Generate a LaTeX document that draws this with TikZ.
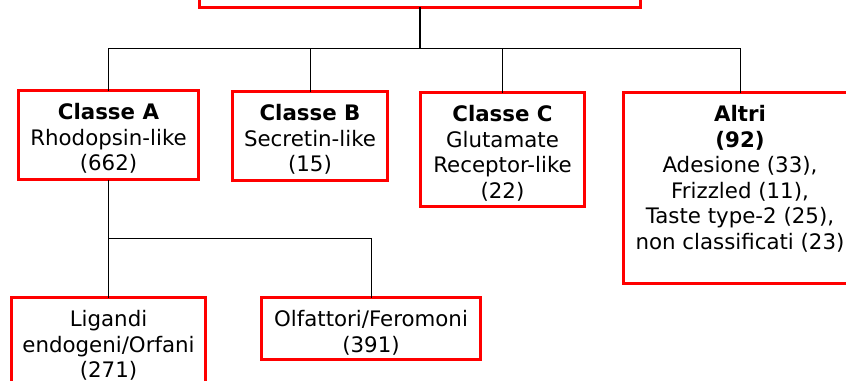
\documentclass[tikz,border=0pt]{standalone}
\usepackage{fontspec}
\setmainfont{DejaVu Sans}
\begin{document}
\begin{tikzpicture}[x=0.75pt,y=-0.75pt,
  box/.style={draw=red, line width=2.25pt, inner sep=0pt, outer sep=0pt, rectangle, anchor=north west},
  lbl/.style={anchor=north, align=center, inner sep=0pt, font=\fontsize{16}{19.2}\selectfont},
  link/.style={draw=black, line width=0.75pt},
  trunk/.style={draw=black, line width=1.5pt}]
\useasboundingbox (0,0) rectangle (846,380);

% frames
\node[box, minimum width=330.75pt, minimum height=50.25pt] (top) at (199.5,-60) {};
\node[box, minimum width=135pt,    minimum height=66.75pt]  (A)   at (18.5,90.5) {};
\node[box, minimum width=116.25pt, minimum height=66.75pt]  (B)   at (232.5,91.5) {};
\node[box, minimum width=123pt,    minimum height=85.5pt]   (C)   at (420.5,92.5) {};
\node[box, minimum width=174.75pt, minimum height=143.25pt] (D)   at (623.5,92.5) {};
\node[box, minimum width=145.5pt,  minimum height=112.5pt]  (L)   at (11.5,297.5) {};
\node[box, minimum width=164.25pt, minimum height=46.5pt]   (O)   at (261.5,297.5) {};

% labels
\node[lbl] (tA) at (108.5,103) {\textbf{Classe A}\\Rhodopsin-like\\(662)};
\node[lbl] (tB) at (310,104) {\textbf{Classe B}\\Secretin-like\\(15)};
\node[lbl] (tC) at (502.5,105) {\textbf{Classe C}\\Glutamate\\Receptor-like\\(22)};
\node[lbl] (tD) at (740,105) {\textbf{Altri}\\\textbf{(92)}\\Adesione (33),\\Frizzled (11),\\Taste type-2 (25),\\non classificati (23)};
\node[lbl] (tL) at (108.5,310) {Ligandi\\endogeni/Orfani\\(271)};
\node[lbl] (tO) at (371,310) {Olfattori/Feromoni\\(391)};

% tree connectors
\coordinate (bus) at (420,48);
\coordinate (sub) at (108.5,238);
\draw[trunk] (top.south) -- (bus);
\draw[link] (bus) -| (A.north);
\draw[link] (bus) -| (B.north);
\draw[link] (bus) -| (C.north);
\draw[link] (bus) -| (D.north);
\draw[link] (A.south) -- (sub) -| (L.north);
\draw[link] (sub) -| (O.north);
\end{tikzpicture}
\end{document}
